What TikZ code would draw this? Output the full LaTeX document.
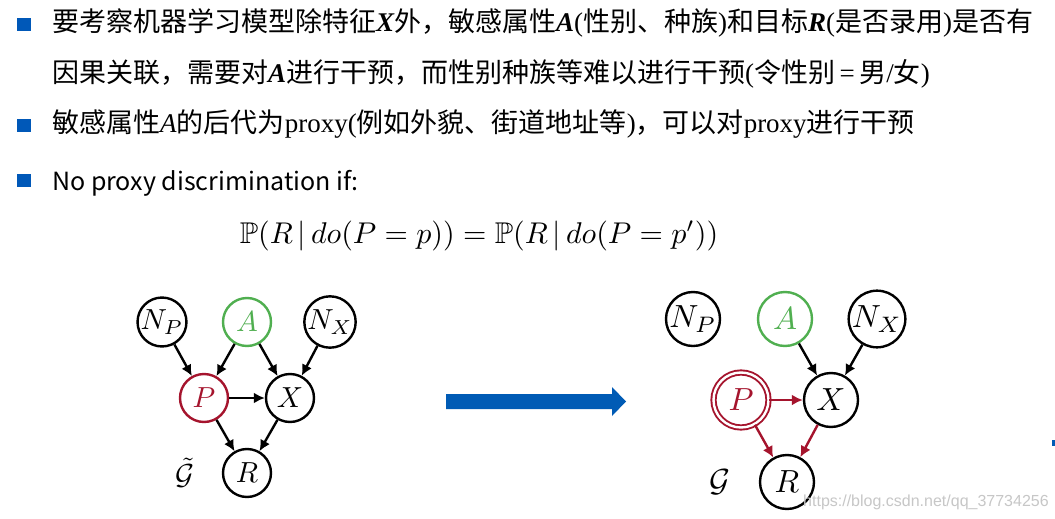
\RequirePackage{fix-cm}
\documentclass[tikz,border=0pt]{standalone}
\usepackage{fontspec}
\usepackage{amssymb}
\usepackage{graphicx}
\setmainfont{Liberation Serif}
\newfontfamily\cjk{Noto Sans CJK SC}
\newfontfamily\wmfont{Liberation Sans}
\usetikzlibrary{arrows.meta}
\definecolor{bulletblue}{RGB}{0,88,184}
\definecolor{arrowblue}{RGB}{0,91,181}
\definecolor{agreen}{RGB}{80,175,80}
\definecolor{pred}{RGB}{165,20,45}
\newcommand{\bi}[1]{{\bfseries\itshape #1}}
\begin{document}
\begin{tikzpicture}[x=1pt,y=-1pt,
  bulletsq/.style={fill=bulletblue, minimum width=14pt, minimum height=13pt, inner sep=0pt},
  txt/.style={anchor=base west, inner sep=0pt, font=\fontsize{27}{32}\selectfont},
  lnode/.style={circle, draw, line width=2.4pt, minimum size=48pt, inner sep=0pt},
  rnode/.style={circle, draw, line width=2.4pt, minimum size=54pt, inner sep=0pt},
  arr/.style={line width=2.4pt, -{Latex[length=11pt,width=11pt]}},
  rarr/.style={line width=2.4pt, draw=pred, -{Latex[length=11pt,width=11pt]}},
  gl/.style={inner sep=0pt}]
\useasboundingbox (0,0) rectangle (1055,519);
\fill[white] (0,0) rectangle (1055,519);

% bullets
\node[bulletsq] (b1) at (24,25) {};
\node[bulletsq] (b2) at (24,125) {};
\node[bulletsq] (b3) at (24,180) {};

% text lines
\node[txt] (l1) at (52,32) {{\cjk 要考察机器学习模型除特征}\bi{X}{\cjk 外，敏感属性}\bi{A}({\cjk 性别、种族}){\cjk 和目标}\bi{R}({\cjk 是否录用}){\cjk 是否有}};
\node[txt] (l2) at (52,82) {{\cjk 因果关联，需要对}\bi{A}{\cjk 进行干预，而性别种族等难以进行干预}({\cjk 令性别}\,=\,{\cjk 男}/{\cjk 女})};
\node[txt] (l3) at (52,132) {{\cjk 敏感属性}\textit{A}{\cjk 的后代为}proxy({\cjk 例如外貌、街道地址等}){\cjk ，可以对}proxy{\cjk 进行干预}};
\node[anchor=base west, inner sep=0pt, font=\fontsize{25}{29}\selectfont\cjk] (l4) at (52,190) {No proxy discrimination if:};

% formula
\node[anchor=base, inner sep=0pt, scale=3] (f) at (479,243) {$\mathbb{P}(R\,|\,do(P=p))=\mathbb{P}(R\,|\,do(P=p'))$};

% left graph
\node[lnode] (lNP) at (162,322) {\scalebox{2.9}{$N_P$}};
\node[lnode, draw=agreen, text=agreen] (lA) at (247,322) {\scalebox{2.9}{$A$}};
\node[lnode] (lNX) at (330,322) {\scalebox{2.9}{$N_X$}};
\node[lnode, draw=pred, text=pred] (lP) at (204,398) {\scalebox{2.9}{$P$}};
\node[lnode] (lX) at (290,398) {\scalebox{2.9}{$X$}};
\node[lnode] (lR) at (247,473) {\scalebox{2.9}{$R$}};
\node[gl] (lG) at (185,473) {\scalebox{2.9}{$\tilde{\mathcal{G}}$}};
\draw[arr] (lNP) -- (lP);
\draw[arr] (lA) -- (lP);
\draw[arr] (lA) -- (lX);
\draw[arr] (lNX) -- (lX);
\draw[arr] (lP) -- (lX);
\draw[arr] (lP) -- (lR);
\draw[arr] (lX) -- (lR);

% big arrow
\fill[arrowblue] (446,394) -- (612,394) -- (612,387) -- (626,401.5) -- (612,416) -- (612,409) -- (446,409) -- cycle;

% right graph
\node[rnode] (rNP) at (693,319) {\scalebox{3.2}{$N_P$}};
\node[rnode, draw=agreen, text=agreen] (rA) at (785,319) {\scalebox{3.2}{$A$}};
\node[rnode] (rNX) at (877,319) {\scalebox{3.2}{$N_X$}};
\node[circle, draw=pred, text=pred, line width=1.9pt, double=white, double distance=2.4pt, minimum size=55pt, inner sep=0pt] (rP) at (741,400) {\scalebox{3.2}{$P$}};
\node[rnode] (rX) at (831,400) {\scalebox{3.2}{$X$}};
\node[rnode] (rR) at (787,482) {\scalebox{3.2}{$R$}};
\node[gl] (rG) at (720,482) {\scalebox{3.2}{$\mathcal{G}$}};
\draw[arr] (rA) -- (rX);
\draw[arr] (rNX) -- (rX);
\draw[rarr] (rP) -- (rX);
\draw[rarr] (rP) -- (rR);
\draw[rarr] (rX) -- (rR);

% watermark
\node[anchor=base west, inner sep=0pt, text=black!22, font=\fontsize{16}{19}\selectfont\wmfont] (wm) at (803,506) {https://blog.csdn.net/qq\_37734256};
\fill[arrowblue] (1052,440) rectangle (1055,446);
\end{tikzpicture}
\end{document}
